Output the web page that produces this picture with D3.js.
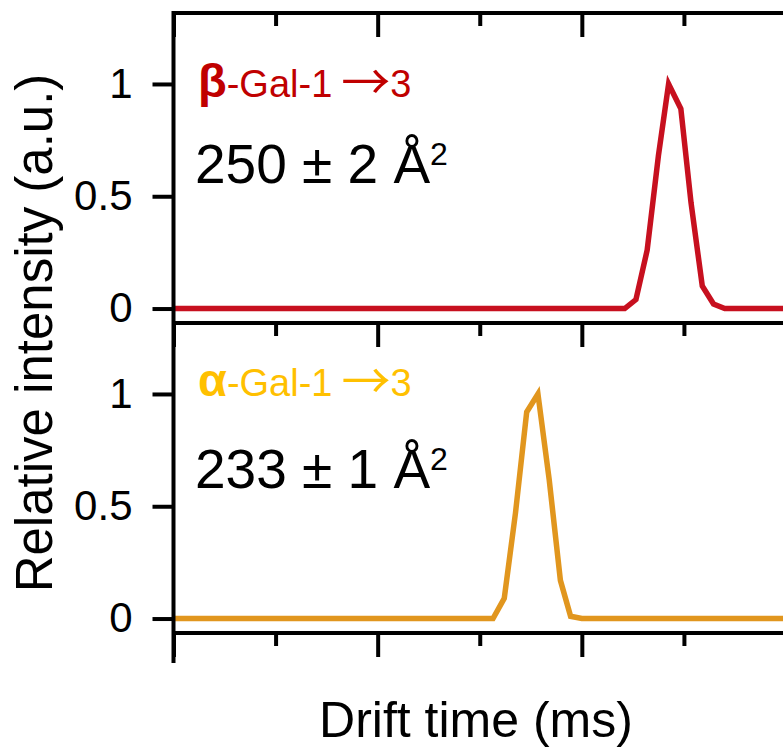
<!DOCTYPE html>
<html>
<head>
<meta charset="utf-8">
<script src="https://cdn.jsdelivr.net/npm/d3@7"></script>
<style>
  html, body { margin: 0; padding: 0; background: #fff; }
  svg { display: block; font-family: "Liberation Sans", Arial, sans-serif; }
</style>
</head>
<body>
<svg id="chart" width="783" height="747"></svg>
<script>
// ---- data -------------------------------------------------------------
const panelNames = ["β", "α"];                 // anomeric form, drawn bold
const panelLinkage = ["-Gal-1", "-Gal-1"];
const panelTarget = ["3", "3"];
const ccsValues = ["250 ± 2", "233 ± 1"];      // collision cross sections, Å²

// β-Gal-1→3 arrival time distribution
const betaTime      = [0, 4.42, 4.53, 4.64, 4.75, 4.85, 4.97, 5.07, 5.18, 5.29, 5.40, 6];
const betaIntensity = [0, 0,    0.04, 0.26, 0.68, 1.00, 0.89, 0.47, 0.10, 0.02, 0,    0];

// α-Gal-1→3 arrival time distribution
const alphaTime      = [0, 3.13, 3.24, 3.35, 3.46, 3.57, 3.68, 3.79, 3.89, 4.00, 6];
const alphaIntensity = [0, 0,    0.09, 0.47, 0.92, 1.00, 0.62, 0.17, 0.01, 0,    0];

const yTickValues = [0, 0.5, 1];
const yTickLabels = ["0", "0.5", "1"];
const xMajorTicks = [0, 2, 4, 6];
const xMinorTicks = [1, 3, 5];

// ---- layout -----------------------------------------------------------
const svg = d3.select("#chart");
const left = 173.5, right = 786;
const panelTops = [13, 323];
const panelHeight = 310;
const lineColors = ["#c7101f", "#e1961e"];
const labelColors = ["#c00000", "#ffc000"];
const labelBaselines = [84, 73];   // offset of the name label below panel top
const ccsBaselines = [170, 165];   // offset of the CCS label below panel top

const x = d3.scaleLinear().domain([0, 6]).range([left, right]);

const series = [
  betaTime.map((t, i) => ({ t, v: betaIntensity[i] })),
  alphaTime.map((t, i) => ({ t, v: alphaIntensity[i] }))
];

panelTops.forEach((top, p) => {
  const bottom = top + panelHeight;
  const y = d3.scaleLinear().domain([-0.0644, 1.316]).range([bottom, top]);
  const g = svg.append("g");

  // trace
  const line = d3.line().x(d => x(d.t)).y(d => y(d.v));
  g.append("path")
    .datum(series[p])
    .attr("d", line)
    .attr("fill", "none")
    .attr("stroke", lineColors[p])
    .attr("stroke-width", 5.5)
    .attr("stroke-linejoin", "miter");

  // y axis ticks and labels
  const yAxis = d3.axisLeft(y)
    .tickValues(yTickValues)
    .tickFormat((d, i) => yTickLabels[i])
    .tickSizeInner(21)
    .tickSizeOuter(0)
    .tickPadding(20);
  const ya = g.append("g").attr("transform", `translate(${left},0)`).call(yAxis);
  ya.select(".domain").remove();
  ya.selectAll(".tick line").attr("stroke", "#000").attr("stroke-width", 4);
  ya.selectAll(".tick text")
    .attr("font-size", 42)
    .attr("font-family", "Liberation Sans, Arial, sans-serif")
    .attr("fill", "#000");

  // name label: bold Greek letter, linkage, arrow, target
  const lab = g.append("text")
    .attr("x", 198)
    .attr("y", top + labelBaselines[p])
    .attr("fill", labelColors[p]);
  lab.append("tspan").attr("font-size", 47).attr("font-weight", "bold").text(panelNames[p]);
  lab.append("tspan").attr("font-size", 38).text(panelLinkage[p]);
  lab.append("tspan")
    .attr("font-family", "Noto Sans CJK JP")
    .attr("font-size", 49)
    .attr("dx", 9)
    .attr("dy", 3)
    .text("→");
  lab.append("tspan").attr("font-size", 38).attr("dx", 0).attr("dy", -3).text(panelTarget[p]);

  // CCS label with superscript
  const ccs = g.append("text")
    .attr("x", 195)
    .attr("y", top + ccsBaselines[p])
    .attr("font-size", 55)
    .attr("fill", "#000");
  ccs.append("tspan").text(ccsValues[p] + " Å");
  ccs.append("tspan").attr("font-size", 32).attr("dy", -18).text("2");
});

// horizontal axis lines with downward ticks (top frame, separator, bottom)
[13, 323, 633].forEach(yy => {
  const ga = svg.append("g").attr("transform", `translate(0,${yy})`);
  const major = d3.axisBottom(x).tickValues(xMajorTicks).tickFormat("").tickSizeInner(24).tickSizeOuter(0);
  const minor = d3.axisBottom(x).tickValues(xMinorTicks).tickFormat("").tickSizeInner(13).tickSizeOuter(0);
  const gm = ga.append("g").call(major);
  const gn = ga.append("g").call(minor);
  gm.select(".domain").remove();
  gn.select(".domain").remove();
  ga.selectAll(".tick line").attr("stroke", "#000").attr("stroke-width", 4);
  ga.append("line")
    .attr("x1", left).attr("x2", 790)
    .attr("y1", 0).attr("y2", 0)
    .attr("stroke", "#000").attr("stroke-width", 4);
});

// left vertical axis line
svg.append("line")
  .attr("x1", left).attr("x2", left)
  .attr("y1", 11).attr("y2", 663)
  .attr("stroke", "#000").attr("stroke-width", 4);

// axis titles
svg.append("text")
  .attr("transform", "translate(52,333) rotate(-90)")
  .attr("text-anchor", "middle")
  .attr("font-size", 51)
  .attr("fill", "#000")
  .text("Relative intensity (a.u.)");

svg.append("text")
  .attr("x", 476)
  .attr("y", 737)
  .attr("text-anchor", "middle")
  .attr("font-size", 50)
  .attr("fill", "#000")
  .text("Drift time (ms)");
</script>
</body>
</html>
